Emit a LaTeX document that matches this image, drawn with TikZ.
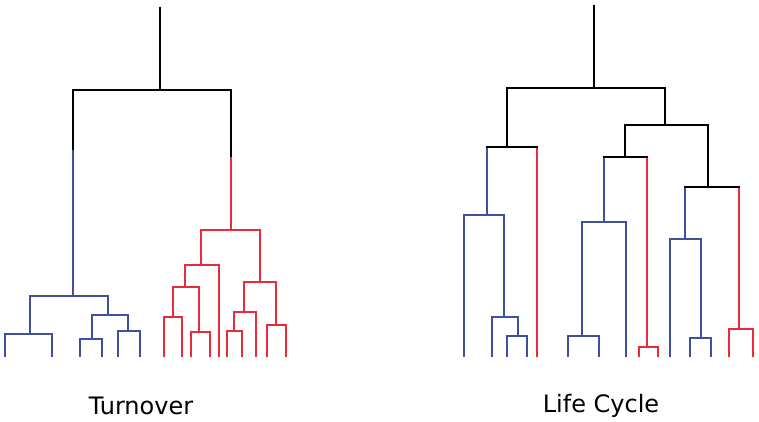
\documentclass[tikz,border=0pt]{standalone}
\usepackage{fontspec}
\setmainfont{DejaVu Sans}
\definecolor{cladeblue}{RGB}{62,80,158}
\definecolor{cladered}{RGB}{232,44,60}
\tikzset{
  branch/.style={line width=2.3pt, line join=miter},
  treelabel/.style={font=\fontsize{24}{28}\selectfont}
}
% bracket from child (#2) up to parent (#3) and down to child (#4)
\newcommand{\clade}[4]{\draw[branch,#1] (#2) |- (#3) -| (#4);}
\begin{document}
\begin{tikzpicture}[x=1pt,y=-1pt]
    \useasboundingbox (0,0) rectangle (759,422);
    % Turnover
    \coordinate (T0) at (160,7);   \coordinate (T) at (160,90);
    \coordinate (TB) at (73,150);  \coordinate (B) at (73,296);
    \coordinate (TR) at (231,157); \coordinate (R) at (231,230);
    \coordinate (B1) at (30,334);  \coordinate (B2) at (108,315);
    \coordinate (B21) at (92,339); \coordinate (B22) at (128,331);
    \coordinate (R1) at (201,265); \coordinate (R2) at (260,282);
    \coordinate (R11) at (185,287); \coordinate (R111) at (173,317); \coordinate (R112) at (199,332);
    \coordinate (R21) at (244,312); \coordinate (R211) at (234,331); \coordinate (R22) at (276,325);
    \foreach \n/\x in {b1/5,b2/52,b3/80,b4/102,b5/118,b6/140,
                      r1/164,r2/182,r3/191,r4/210,r5/219,r6/227,r7/242,r8/256,r9/267,r10/286}
      \coordinate (\n) at (\x,357);
    \draw[branch] (T0) -- (T);
    \clade{black}{TB}{T}{TR}
    \draw[branch,cladeblue] (TB) -- (B);
    \draw[branch,cladered] (TR) -- (R);
    \clade{cladeblue}{B1}{B}{B2}
    \clade{cladeblue}{b1}{B1}{b2}
    \clade{cladeblue}{B21}{B2}{B22}
    \clade{cladeblue}{b3}{B21}{b4}
    \clade{cladeblue}{b5}{B22}{b6}
    \clade{cladered}{R1}{R}{R2}
    \clade{cladered}{R11}{R1}{r5}
    \clade{cladered}{R111}{R11}{R112}
    \clade{cladered}{r1}{R111}{r2}
    \clade{cladered}{r3}{R112}{r4}
    \clade{cladered}{R21}{R2}{R22}
    \clade{cladered}{R211}{R21}{r8}
    \clade{cladered}{r6}{R211}{r7}
    \clade{cladered}{r9}{R22}{r10}
    % Life Cycle
    \coordinate (L0) at (594,5);    \coordinate (L) at (594,88);
    \coordinate (La) at (507,147);  \coordinate (Lb) at (665,125);
    \coordinate (Laa) at (487,215); \coordinate (Lab) at (504,317); \coordinate (Labb) at (518,336);
    \coordinate (Lba) at (625,157); \coordinate (Lbb) at (708,187);
    \coordinate (Lbaa) at (604,222); \coordinate (Lbaaa) at (582,336); \coordinate (Lbab) at (647,347);
    \coordinate (Lbba) at (685,239); \coordinate (Lbbab) at (701,338); \coordinate (Lbbb) at (739,329);
    \foreach \n/\x in {l1/464,l2/492,l3/507,l4/527,l5/537,l6/568,l7/599,l8/626,l9/639,l10/658,
                      l11/670,l12/690,l13/711,l14/729,l15/753}
      \coordinate (\n) at (\x,357);
    \draw[branch] (L0) -- (L);
    \clade{black}{La}{L}{Lb}
    \clade{black}{Lba}{Lb}{Lbb}
    \foreach \p/\u/\v in {La/Laa/l5, Lba/Lbaa/Lbab, Lbb/Lbba/Lbbb} {
      \draw[branch,cladeblue] (\u |- \p) -- (\u);
      \draw[branch,cladered] (\v |- \p) -- (\v);
      \draw[branch,line cap=rect] (\u |- \p) -- (\v |- \p);
    }
    \clade{cladeblue}{l1}{Laa}{Lab}
    \clade{cladeblue}{l2}{Lab}{Labb}
    \clade{cladeblue}{l3}{Labb}{l4}
    \clade{cladeblue}{Lbaaa}{Lbaa}{l8}
    \clade{cladeblue}{l6}{Lbaaa}{l7}
    \clade{cladered}{l9}{Lbab}{l10}
    \clade{cladeblue}{l11}{Lbba}{Lbbab}
    \clade{cladeblue}{l12}{Lbbab}{l13}
    \clade{cladered}{l14}{Lbbb}{l15}
    % labels
    \node[treelabel] (turnover) at (141,406) {Turnover};
    \node[treelabel] (lifecycle) at (601,406) {Life Cycle};
\end{tikzpicture}
\end{document}
